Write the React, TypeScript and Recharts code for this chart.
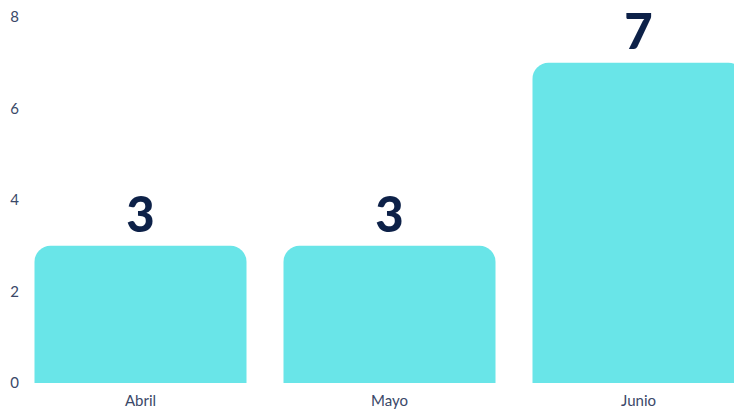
import { Bar, BarChart, LabelList, XAxis, YAxis } from "recharts";

const MESES = ["Abril", "Mayo", "Junio"];
const CASOS = [3, 3, 7];
const Y_TICKS = [0, 2, 4, 6, 8];

const data = MESES.map((mes, i) => ({ name: mes, casos: CASOS[i] }));

export default function App() {
	return (
		<div style={{ position: "absolute", left: 0, top: 0, width: 734, height: 411, overflow: "hidden", background: "#fff" }}>
			<BarChart
				width={763}
				height={411}
				data={data}
				margin={{ top: 17, right: 0, bottom: 0, left: 0 }}
				barCategoryGap={18.5}
			>
				<XAxis
					dataKey="name"
					axisLine={false}
					tickLine={false}
					tickSize={0}
					tickMargin={12}
					height={28}
					tick={{ fill: "#3a4868", fontSize: 15, fontFamily: "Lato" }}
				/>
				<YAxis
					domain={[0, 8]}
					ticks={Y_TICKS}
					axisLine={false}
					tickLine={false}
					tickSize={0}
					tickMargin={0}
					width={16}
					tick={{ fill: "#3a4868", fontSize: 15, fontFamily: "Lato", dx: 3 }}
				/>
				<Bar
					dataKey="casos"
					fill="#69e5e8"
					radius={[16, 16, 0, 0]}
					isAnimationActive={false}
				>
					<LabelList
						dataKey="casos"
						position="top"
						offset={14}
						fill="#0d2148"
						fontSize={49}
						fontWeight={900}
						fontFamily="Lato"
					/>
				</Bar>
			</BarChart>
		</div>
	);
}
